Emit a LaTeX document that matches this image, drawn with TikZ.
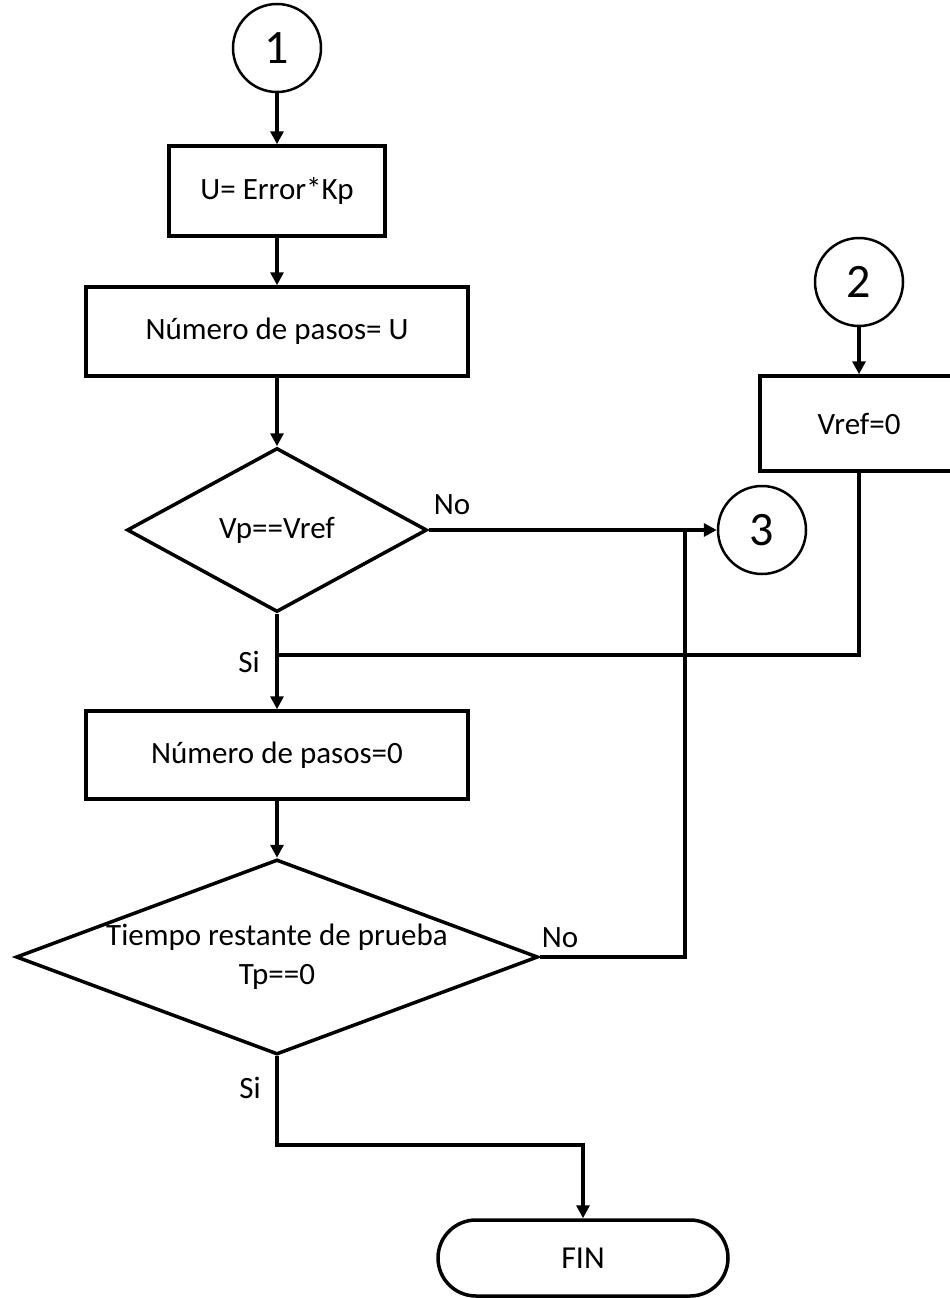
\documentclass[tikz,border=0pt]{standalone}
\usepackage{fontspec}
\setmainfont{Carlito}
\usetikzlibrary{shapes,arrows.meta}
\tikzset{
  proc/.style={draw, rectangle, line width=3.5pt, inner sep=0pt, minimum height=90pt, font=\fontsize{31}{37}\selectfont},
  conn/.style={draw, circle, line width=2.5pt, inner sep=0pt, minimum size=88pt, font=\fontsize{48}{54}\selectfont},
  decis/.style={draw, diamond, line width=3.5pt, inner sep=0pt, align=center, font=\fontsize{31}{39}\selectfont},
  term/.style={draw, rounded rectangle, line width=3.5pt, inner sep=0pt, minimum width=290pt, minimum height=76pt, font=\fontsize{32}{38}\selectfont},
  lbl/.style={inner sep=0pt, font=\fontsize{31}{37}\selectfont},
  line/.style={line width=3.5pt},
  arrow/.style={line width=3.5pt, -{Triangle[length=13pt,width=13pt]}}
}

\begin{document}
\begin{tikzpicture}[x=1pt,y=-1pt]
        \useasboundingbox (0,0) rectangle (950,1298);

        % main column
        \node[conn] (c1) at (277,48) {1};
        \node[proc, minimum width=216pt] (u) at (277,191) {U= Error*Kp};
        \node[proc, minimum width=382pt, minimum height=89pt] (npu) at (277,331.5) {Número de pasos= U};
        \node[decis, aspect=1.83, minimum width=300pt, minimum height=164pt] (d1) at (277,530) {Vp==Vref};
        \node[proc, minimum width=382pt, minimum height=88pt] (np0) at (277,755) {Número de pasos=0};
        \node[decis, aspect=2.68, inner sep=-16pt, minimum width=522pt, minimum height=195pt] (d2) at (277,957) {Tiempo restante de prueba\\Tp==0};
        \node[term] (fin) at (583,1258) {FIN};

        % right column
        \node[conn] (c2) at (859,282) {2};
        \node[proc, minimum width=198pt, minimum height=95pt] (vref) at (859,423.5) {Vref=0};
        \node[conn] (c3) at (762,530) {3};

        % joins
        \coordinate (jsi) at (277,655);
        \coordinate (jno) at (685,530);
        \coordinate (jfin) at (583,1145);

        % arrows
        \draw[arrow] (c1) -- (u);
        \draw[arrow] (u) -- (npu);
        \draw[arrow] (npu) -- (d1);
        \draw[arrow] (d1.east) -- (c3.west);
        \draw[arrow] (d1.south) -- (np0.north);
        \draw[arrow] (c2) -- (vref);
        \draw[line] (vref.south) |- (jsi);
        \draw[arrow] (np0) -- (d2);
        \draw[line] (d2.east) -| (jno);
        \draw[arrow] (d2.south) |- (jfin) -- (fin.north);

        % labels
        \node[lbl] (no1) at (452,505) {No};
        \node[lbl] (si1) at (249,662) {Si};
        \node[lbl] (no2) at (560,938) {No};
        \node[lbl] (si2) at (250,1088) {Si};
\end{tikzpicture}
\end{document}
